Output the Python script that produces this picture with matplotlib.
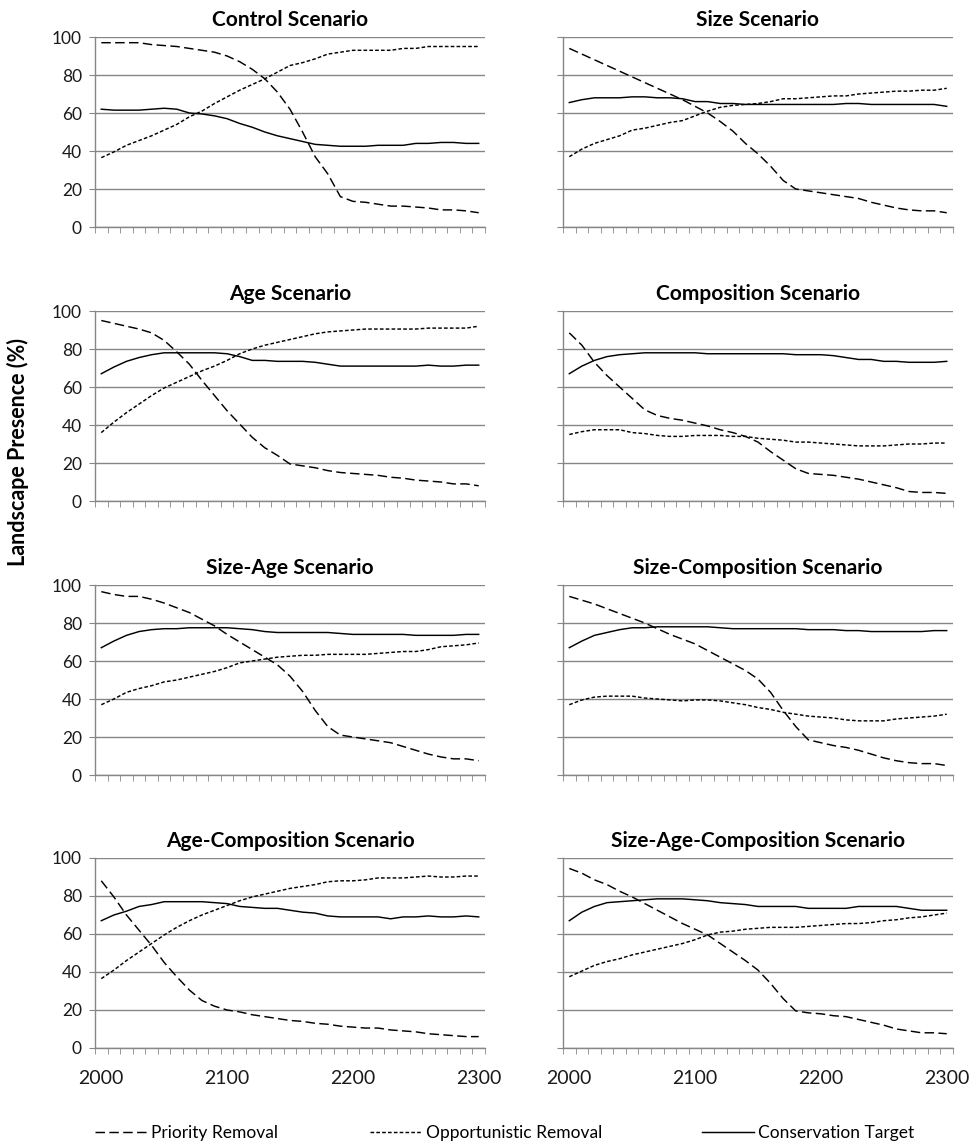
# Landscape presence under eight removal scenarios (Excel-style panel chart)

import numpy as np
import matplotlib.pyplot as plt

plt.rcParams['font.family'] = ['Lato', 'DejaVu Sans']

# -------------------------------
# DATA
# -------------------------------

years = list(range(2000, 2301, 10))

titles = ["Control Scenario", "Size Scenario",
          "Age Scenario", "Composition Scenario",
          "Size-Age Scenario", "Size-Composition Scenario",
          "Age-Composition Scenario", "Size-Age-Composition Scenario"]

series_names = ["Priority Removal", "Opportunistic Removal", "Conservation Target"]

control_priority = [97, 97, 97, 97, 96, 95.5, 95, 94, 93, 92, 90, 87, 83, 78, 71, 62,
                    50, 37, 28, 16, 13.5, 13, 12, 11, 11, 10.5, 10, 9, 9, 8.5, 7.5]
control_opportunistic = [36.5, 39.5, 43, 45.5, 48, 51, 54, 58, 61, 65, 68.5, 72, 75, 78, 81.5, 85,
                         86.5, 88.5, 91, 92, 93, 93, 93, 93, 94, 94, 95, 95, 95, 95, 95]
control_conservation = [62, 61.5, 61.5, 61.5, 62, 62.5, 62, 60, 59.5, 58.5, 57, 54.5, 52.5, 50, 48, 46.5,
                        45, 43.5, 43, 42.5, 42.5, 42.5, 43, 43, 43, 44, 44, 44.5, 44.5, 44, 44]

size_priority = [94, 91, 88, 85, 82, 79, 76, 73, 70, 67, 63.5, 60, 55.5, 50.5, 44, 38.5,
                 32, 24.5, 20, 19, 18, 17, 16, 15, 13, 11.5, 10, 9, 8.5, 8.5, 7.5]
size_opportunistic = [37, 41, 44, 46, 48, 51, 52, 53.5, 55, 56, 58.5, 61, 63, 64, 64.5, 65,
                      66, 67.5, 67.5, 68, 68.5, 69, 69, 70, 70.5, 71, 71.5, 71.5, 72, 72, 73]
size_conservation = [65.5, 67, 68, 68, 68, 68.5, 68.5, 68, 68, 67.5, 66, 66, 65, 65, 64.5, 64.5,
                     64.5, 64.5, 64.5, 64.5, 64.5, 64.5, 65, 65, 64.5, 64.5, 64.5, 64.5, 64.5, 64.5, 63.5]

age_priority = [95, 93.5, 92, 90.5, 88.5, 84.5, 78.5, 72, 63.5, 55.5, 47.5, 40.5, 33.5, 28, 24, 19.5,
                18.5, 17.5, 16, 15, 14.5, 14, 13.5, 12.5, 12, 11, 10.5, 10, 9, 9, 8]
age_opportunistic = [36, 41.5, 46.5, 51, 55.5, 59.5, 62.5, 65.5, 68.5, 71, 74, 77.5, 80, 82, 83.5, 85,
                     86.5, 88, 89, 89.5, 90, 90.5, 90.5, 90.5, 90.5, 90.5, 91, 91, 91, 91, 92]
age_conservation = [67, 70.5, 73.5, 75.5, 77, 78, 78, 78, 78, 78, 77.5, 76, 74, 74, 73.5, 73.5,
                    73.5, 73, 72, 71, 71, 71, 71, 71, 71, 71, 71.5, 71, 71, 71.5, 71.5]

comp_priority = [88.5, 82, 73, 66, 60, 54, 48, 45, 43.5, 42.5, 41, 39.5, 37.5, 36, 34, 31,
                 26, 21.5, 17, 14.5, 14, 13.5, 12.5, 11.5, 10, 8.5, 7, 5, 4.5, 4.5, 4]
comp_opportunistic = [35, 36.5, 37.5, 37.5, 37.5, 36, 35.5, 34.5, 34, 34, 34.5, 34.5, 34.5, 34, 34, 33,
                      32.5, 32, 31, 31, 30.5, 30, 29.5, 29, 29, 29, 29.5, 30, 30, 30.5, 30.5]
comp_conservation = [67, 71, 74, 76, 77, 77.5, 78, 78, 78, 78, 78, 77.5, 77.5, 77.5, 77.5, 77.5,
                     77.5, 77.5, 77, 77, 77, 76.5, 75.5, 74.5, 74.5, 73.5, 73.5, 73, 73, 73, 73.5]

sizeage_priority = [96.5, 95, 94, 94, 92.5, 90.5, 88, 85.5, 82, 78.5, 74, 70, 66, 62, 58, 52,
                    44, 34, 25.5, 21, 20, 19, 18, 17, 15, 13, 11, 9.5, 8.5, 8.5, 7.5]
sizeage_opportunistic = [37, 40, 43.5, 45.5, 47, 49, 50, 51.5, 53, 54.5, 56.5, 59, 60, 61, 62, 62.5,
                         63, 63, 63.5, 63.5, 63.5, 63.5, 64, 64.5, 65, 65, 66, 67.5, 68, 68.5, 69.5]
sizeage_conservation = [67, 70.5, 73.5, 75.5, 76.5, 77, 77, 77.5, 77.5, 77.5, 77.5, 77, 76.5, 75.5, 75, 75,
                        75, 75, 75, 74.5, 74, 74, 74, 74, 74, 73.5, 73.5, 73.5, 73.5, 74, 74]

sizecomp_priority = [94, 92, 90, 87.5, 85, 82.5, 80, 77, 74, 71.5, 69, 65.5, 62, 58.5, 55, 50.5,
                     43.5, 34, 25.5, 18.5, 17, 15.5, 14.5, 13, 11, 9, 7.5, 6.5, 6, 6, 5]
sizecomp_opportunistic = [37, 39.5, 41, 41.5, 41.5, 41.5, 40.5, 40, 39.5, 39, 39.5, 39.5, 39, 38, 37, 35.5,
                          34.5, 33, 32, 31, 30.5, 30, 29, 28.5, 28.5, 28.5, 29.5, 30, 30.5, 31, 32]
sizecomp_conservation = [67, 70.5, 73.5, 75, 76.5, 77.5, 77.5, 78, 78, 78, 78, 78, 77.5, 77, 77, 77,
                         77, 77, 77, 76.5, 76.5, 76.5, 76, 76, 75.5, 75.5, 75.5, 75.5, 75.5, 76, 76]

agecomp_priority = [88, 79.5, 70, 62, 54, 45, 37.5, 30.5, 25, 22, 20, 19, 17.5, 16.5, 15.5, 14.5,
                    14, 13, 12.5, 11.5, 11, 10.5, 10.5, 9.5, 9, 8.5, 7.5, 7, 6.5, 6, 6]
agecomp_opportunistic = [36.5, 41, 46, 50.5, 55, 59.5, 63.5, 67, 70, 72.5, 75, 77.5, 79.5, 81, 82.5, 84,
                         85, 86, 87.5, 88, 88, 88.5, 89.5, 89.5, 89.5, 90, 90.5, 90, 90, 90.5, 90.5]
agecomp_conservation = [67, 70, 72, 74.5, 75.5, 77, 77, 77, 77, 76.5, 76, 74.5, 74, 73.5, 73.5, 72.5,
                        71.5, 71, 69.5, 69, 69, 69, 69, 68, 69, 69, 69.5, 69, 69, 69.5, 69]

sac_priority = [94.5, 92, 88.5, 86, 82.5, 79.5, 76, 72.5, 69, 65.5, 62.5, 59.5, 55, 50.5, 46, 41,
                34, 26, 19.5, 18.5, 18, 17, 16.5, 15, 13.5, 12, 10, 9, 8, 8, 7.5]
sac_opportunistic = [37.5, 40.5, 43.5, 45.5, 47, 49, 50.5, 52, 53.5, 55, 57, 59.5, 61, 61.5, 62.5, 63,
                     63.5, 63.5, 63.5, 64, 64.5, 65, 65.5, 65.5, 66, 67, 67.5, 68.5, 69, 70, 71]
sac_conservation = [67, 71.5, 74.5, 76.5, 77, 77.5, 78, 78.5, 78.5, 78.5, 78, 77.5, 76.5, 76, 75.5, 74.5,
                    74.5, 74.5, 74.5, 73.5, 73.5, 73.5, 73.5, 74.5, 74.5, 74.5, 74.5, 73.5, 72.5, 72.5, 72.5]

panels = [
    (control_priority, control_opportunistic, control_conservation),
    (size_priority, size_opportunistic, size_conservation),
    (age_priority, age_opportunistic, age_conservation),
    (comp_priority, comp_opportunistic, comp_conservation),
    (sizeage_priority, sizeage_opportunistic, sizeage_conservation),
    (sizecomp_priority, sizecomp_opportunistic, sizecomp_conservation),
    (agecomp_priority, agecomp_opportunistic, agecomp_conservation),
    (sac_priority, sac_opportunistic, sac_conservation),
]

# -------------------------------
# LAYOUT / STYLE
# -------------------------------

W, H = 969, 1143
fig = plt.figure(figsize=(W / 100, H / 100), dpi=100)

col_left = [95, 563]
row_top = [37, 311, 585, 858]
ax_w, ax_h = 390, 190

axis_grey = "#868686"
text_col = "#1a1a1a"
dash_styles = [(0, (6.5, 3.0)), (0, (2.5, 1.5)), "-"]

handles = []
for k, (title, data) in enumerate(zip(titles, panels)):
    r, c = divmod(k, 2)
    x0 = col_left[c]
    y0 = row_top[r]
    ax = fig.add_axes([x0 / W, 1 - (y0 + ax_h) / H, ax_w / W, ax_h / H])

    for vals, ls in zip(data, dash_styles):
        ln, = ax.plot(years, vals, color="black", lw=1.05, linestyle=ls)
        if k == 0:
            handles.append(ln)

    ax.set_xlim(1995, 2305)
    ax.set_ylim(0, 100)
    ax.set_yticks(range(0, 101, 20))
    ax.yaxis.grid(True, color=axis_grey, lw=1.0)
    ax.set_axisbelow(True)

    for s in ["top", "right"]:
        ax.spines[s].set_visible(False)
    for s in ["left", "bottom"]:
        ax.spines[s].set_color(axis_grey)
        ax.spines[s].set_linewidth(1.0)

    ax.set_xticks([2000, 2100, 2200, 2300])
    ax.set_xticks(np.arange(1995, 2306, 10), minor=True)
    ax.tick_params(axis="x", which="major", length=0, pad=16, labelsize=14,
                   colors=text_col)
    ax.tick_params(axis="x", which="minor", length=4, color=axis_grey, direction="out")
    ax.tick_params(axis="y", length=4.5, color=axis_grey, labelsize=12.5,
                   labelcolor=text_col, pad=5)
    if r < 3:
        ax.set_xticklabels([])
    if c == 1:
        ax.set_yticklabels([])

    ax.set_title(title, fontsize=15, fontweight="bold", pad=8)

fig.text(18 / W, 1 - 452 / H, "Landscape Presence (%)", rotation=90,
         ha="center", va="center", fontsize=15.5, fontweight="bold")

# legend entries placed one by one (Excel spreads them over the width)
legend_x = [95, 370, 702]
for h, name, lx in zip(handles, series_names, legend_x):
    fig.legend([h], [name], loc="center left", bbox_to_anchor=(lx / W, 1 - 1133 / H),
               frameon=False, fontsize=12.5, handlelength=3.0, handletextpad=0.25,
               borderaxespad=0, borderpad=0)

fig.savefig("out.png", dpi=100)
